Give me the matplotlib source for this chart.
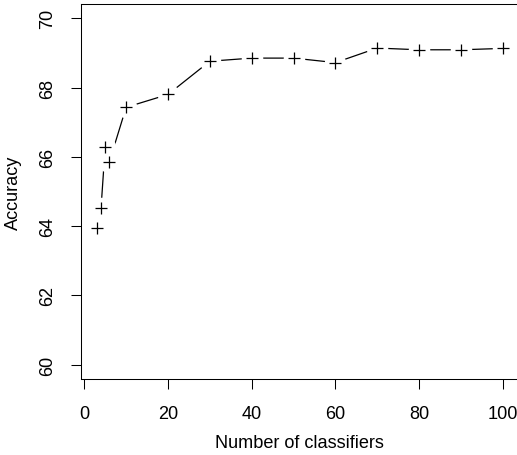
import matplotlib
matplotlib.use("Agg")
import matplotlib.pyplot as plt

n_classifiers = [3, 4, 5, 6, 10, 20, 30, 40, 50, 60, 70, 80, 90, 100]
accuracy = [63.95, 64.52, 66.29, 65.86, 67.43, 67.80, 68.76, 68.85, 68.85, 68.72, 69.14, 69.09, 69.09, 69.13]
x_ticks = [0, 20, 40, 60, 80, 100]
y_ticks = [60, 62, 64, 66, 68, 70]

plt.rcParams['font.family'] = ['Liberation Sans', 'DejaVu Sans']
dpi = 100
fig = plt.figure(figsize=(517 / dpi, 456 / dpi), dpi=dpi)
W, H = 517, 456
left, right, top, bottom = 80.6, 519.0, 5.4, 379.6
ax = fig.add_axes([left / W, 1 - bottom / H, (right - left) / W, (bottom - top) / H])

ax.plot(n_classifiers, accuracy, color='black', lw=0.9, zorder=2)
ax.plot(n_classifiers, accuracy, ls='none', marker='o', ms=15.5, mfc='white', mec='none', zorder=3)
ax.plot(n_classifiers, accuracy, ls='none', marker='+', ms=9, mew=0.9, color='black', zorder=4)

fs = 13.1
ax.set_xlim(-0.88, 103.88)
ax.set_ylim(59.6, 70.4)
ax.set_xticks(x_ticks)
ax.set_yticks(y_ticks)
ax.set_xticklabels([str(v) for v in x_ticks], fontsize=fs)
ax.set_yticklabels([str(v) for v in y_ticks], fontsize=fs, rotation=90, va='center')
ax.tick_params(direction='out', length=7.2, width=0.75, colors='black')
ax.tick_params(axis='x', pad=11.5)
ax.tick_params(axis='y', pad=10.5)
for s in ax.spines.values():
    s.set_linewidth(0.75)
    s.set_color('black')
ax.set_xlabel('Number of classifiers', fontsize=fs, labelpad=9)
ax.set_ylabel('Accuracy', fontsize=fs, labelpad=12)

fig.savefig('out.png', dpi=dpi)
